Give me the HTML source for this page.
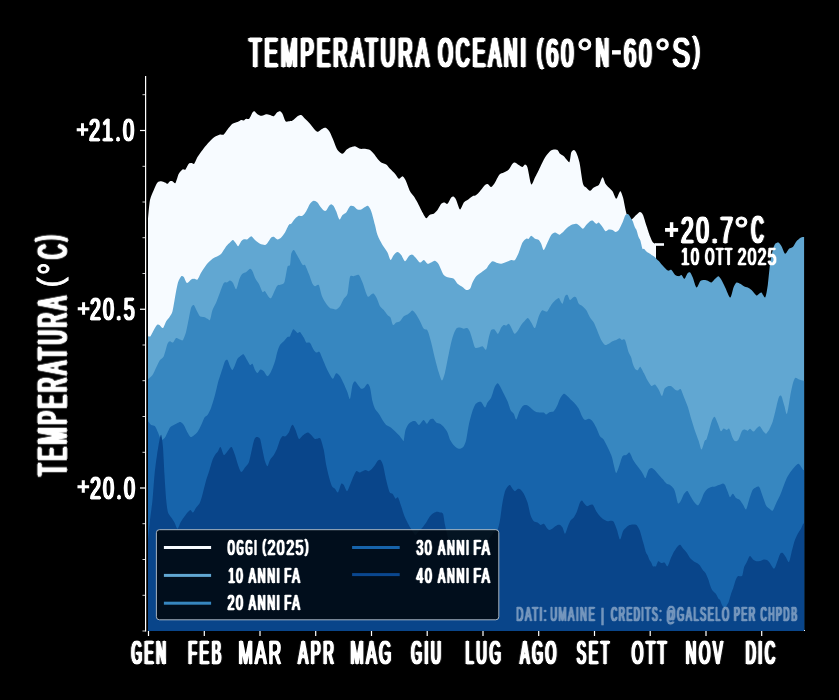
<!DOCTYPE html>
<html lang="it"><head><meta charset="utf-8"><title>Temperatura Oceani (60°N-60°S)</title>
<style>
html,body{margin:0;padding:0;background:#000;}
body{width:839px;height:700px;overflow:hidden;}
svg{display:block;}
svg text{font-family:"Liberation Sans",Arial,sans-serif;fill:#fff;stroke:#fff;}
</style></head><body>
<svg width="839" height="700" viewBox="0 0 839 700">
<rect width="839" height="700" fill="#000"/>
<path d="M148.0,631.0L148.0,218.8C148.3,216.2 149.2,203.8 150.0,200.0C150.8,196.2 152.8,192.3 153.8,190.0C154.8,187.7 156.5,183.7 157.5,182.5C158.5,181.3 160.2,181.2 161.2,181.2C162.2,181.2 164.2,182.2 165.0,182.5C165.8,182.8 166.8,183.9 167.5,183.8C168.2,183.6 169.3,181.6 170.0,181.2C170.7,180.9 171.8,181.0 172.5,181.2C173.2,181.5 174.7,184.0 175.5,183.0C176.3,182.0 177.8,175.6 178.8,173.8C179.7,171.9 181.6,170.1 182.5,169.5C183.4,168.9 184.7,170.3 185.5,169.5C186.3,168.7 187.9,164.6 188.8,163.8C189.6,162.9 191.0,163.0 191.8,163.0C192.5,163.0 193.5,164.6 194.2,163.8C195.0,162.9 196.4,158.8 197.5,157.0C198.6,155.2 201.2,151.8 202.5,150.0C203.8,148.2 206.0,145.4 207.5,143.8C209.0,142.1 212.1,138.7 213.8,137.5C215.4,136.3 218.7,134.9 220.0,134.5C221.3,134.1 222.8,135.2 223.8,134.5C224.8,133.8 226.3,130.9 227.5,129.5C228.7,128.1 231.2,124.8 232.5,123.8C233.8,122.8 236.3,122.5 237.5,122.0C238.7,121.5 240.4,120.2 241.2,120.0C242.1,119.8 243.1,120.7 243.8,120.5C244.4,120.3 245.5,119.0 246.2,118.8C247.0,118.5 248.4,119.6 249.2,118.8C250.1,117.9 251.8,113.5 252.5,112.5C253.2,111.5 253.8,111.0 254.5,111.2C255.2,111.5 256.6,113.7 257.5,114.2C258.4,114.8 260.4,115.7 261.2,115.8C262.1,115.8 263.6,115.2 264.2,115.0C264.9,114.8 265.5,114.2 266.2,114.2C267.0,114.2 269.0,114.7 270.0,115.0C271.0,115.3 272.8,116.6 273.8,116.2C274.7,115.9 276.2,113.2 277.0,112.5C277.8,111.8 279.3,111.1 280.0,111.2C280.7,111.4 281.8,112.4 282.5,113.8C283.2,115.1 284.7,120.2 285.5,121.2C286.3,122.2 287.8,121.3 288.8,121.2C289.7,121.2 291.3,121.2 292.5,120.5C293.7,119.8 296.3,117.0 297.5,116.2C298.7,115.5 300.2,114.7 301.2,115.0C302.2,115.3 303.8,117.6 305.0,118.8C306.2,119.9 308.7,122.2 310.0,123.8C311.3,125.2 313.9,128.9 315.0,130.0C316.1,131.1 317.0,131.9 318.0,131.8C319.0,131.6 321.4,129.2 322.5,128.8C323.6,128.2 325.2,127.5 326.2,128.0C327.2,128.5 329.0,130.7 330.0,132.5C331.0,134.3 332.8,138.9 333.8,141.2C334.8,143.6 336.3,148.3 337.5,150.0C338.7,151.7 341.3,153.8 342.5,153.8C343.7,153.8 345.2,150.8 346.2,150.0C347.2,149.2 348.8,148.0 350.0,147.5C351.2,147.0 353.7,146.1 355.0,146.2C356.3,146.4 358.7,148.4 360.0,148.8C361.3,149.1 363.7,148.6 365.0,148.8C366.3,148.9 368.8,149.3 370.0,150.0C371.2,150.7 372.8,152.6 373.8,153.8C374.8,154.9 376.5,157.6 377.5,158.8C378.5,159.9 380.1,161.7 381.2,162.5C382.4,163.3 385.1,163.7 386.2,164.5C387.4,165.3 388.8,167.5 390.0,168.8C391.2,170.0 393.8,172.4 395.0,173.8C396.2,175.1 397.8,178.4 398.8,178.8C399.8,179.1 401.6,176.1 402.5,176.2C403.4,176.4 404.5,178.0 405.5,180.0C406.5,182.0 408.9,189.1 410.0,191.2C411.1,193.4 412.8,194.8 413.8,196.2C414.8,197.8 416.3,200.3 417.5,202.5C418.7,204.7 421.3,210.4 422.5,212.5C423.7,214.6 425.3,217.9 426.2,218.2C427.2,218.6 428.5,215.6 429.5,215.0C430.5,214.4 432.7,214.4 433.8,213.8C434.8,213.1 436.5,211.3 437.5,210.0C438.5,208.7 440.3,204.8 441.2,203.8C442.2,202.8 443.7,202.5 444.5,202.5C445.3,202.5 446.6,204.4 447.5,203.8C448.4,203.1 450.4,198.4 451.2,197.5C452.1,196.6 453.1,196.4 453.8,196.8C454.4,197.1 455.4,198.3 456.2,200.0C457.1,201.7 459.0,209.2 460.0,209.5C461.0,209.8 462.8,203.8 463.8,202.5C464.8,201.2 466.3,200.8 467.5,200.0C468.7,199.2 471.3,196.9 472.5,196.2C473.7,195.6 475.2,195.7 476.2,195.0C477.2,194.3 478.8,192.6 480.0,191.2C481.2,189.9 483.9,185.9 485.0,185.0C486.1,184.1 487.2,184.0 488.0,184.2C488.8,184.5 490.3,187.2 491.2,187.0C492.2,186.8 493.9,184.2 495.0,182.5C496.1,180.8 498.3,175.8 499.5,174.5C500.7,173.2 502.5,173.2 503.8,172.5C505.0,171.8 507.6,170.7 508.8,169.5C509.9,168.3 511.7,164.7 512.5,163.8C513.3,162.8 514.2,162.3 515.0,162.5C515.8,162.7 517.8,164.4 518.8,165.0C519.8,165.6 521.7,167.1 522.5,167.0C523.3,166.9 524.3,164.4 525.0,164.5C525.7,164.6 526.7,164.9 527.5,167.5C528.3,170.1 530.2,182.9 531.2,184.2C532.2,185.6 533.8,179.7 535.0,177.5C536.2,175.3 538.7,170.2 540.0,167.5C541.3,164.8 543.7,159.7 545.0,157.5C546.3,155.3 548.8,152.3 550.0,151.2C551.2,150.2 552.8,149.7 553.8,149.5C554.8,149.3 556.7,149.4 557.5,150.0C558.3,150.6 559.2,152.9 560.0,153.8C560.8,154.6 562.8,155.4 563.8,156.2C564.7,157.1 566.2,159.2 567.0,160.0C567.8,160.8 568.9,163.0 569.5,162.0C570.1,161.0 570.7,154.1 571.2,152.5C571.8,150.9 573.1,150.0 573.8,150.0C574.4,150.0 575.5,150.8 576.2,152.5C577.0,154.2 578.6,158.3 579.5,162.5C580.4,166.7 582.1,180.4 583.0,183.8C583.9,187.1 585.3,186.6 586.2,187.5C587.2,188.4 589.0,190.8 590.0,190.8C591.0,190.8 592.6,188.3 593.8,187.5C594.9,186.7 597.8,186.1 598.8,185.0C599.8,183.9 600.7,180.5 601.2,179.5C601.8,178.5 602.4,176.9 603.0,177.5C603.6,178.1 604.7,182.4 605.5,183.8C606.3,185.1 607.8,186.5 608.8,187.5C609.7,188.5 611.5,189.8 612.5,191.2C613.5,192.8 615.4,198.4 616.2,198.8C617.1,199.1 618.2,194.8 618.8,193.8C619.3,192.8 619.9,190.8 620.5,191.2C621.1,191.8 622.2,194.7 623.0,197.5C623.8,200.3 625.4,209.5 626.2,212.5C627.1,215.5 628.7,219.2 629.5,220.0C630.3,220.8 631.6,219.4 632.5,218.8C633.4,218.1 635.2,215.9 636.2,215.0C637.2,214.1 639.1,212.0 640.0,212.0C640.9,212.0 642.2,213.3 643.0,215.0C643.8,216.7 645.3,222.2 646.2,225.0C647.2,227.8 649.1,233.9 650.0,236.2C650.9,238.6 652.2,241.5 653.0,242.5C653.8,243.5 655.6,243.6 656.0,243.8L656.0,631.0Z" fill="#f7fbff"/>
<path d="M148.0,631.0L148.0,336.2C148.3,336.2 149.7,337.1 150.5,336.2C151.3,335.4 152.9,331.5 153.8,330.0C154.6,328.5 156.2,325.7 157.0,325.0C157.8,324.3 158.7,324.6 159.5,325.0C160.3,325.4 162.1,328.5 163.0,328.0C163.9,327.5 165.3,322.8 166.2,321.2C167.2,319.7 169.2,317.6 170.0,316.2C170.8,314.9 171.8,313.8 172.5,311.2C173.2,308.8 174.3,301.3 175.0,297.5C175.7,293.7 177.2,285.3 178.0,282.5C178.8,279.7 180.5,277.0 181.2,276.2C182.0,275.5 183.0,276.1 183.8,277.0C184.5,277.9 186.0,282.7 187.0,283.0C188.0,283.3 190.2,280.1 191.2,279.5C192.2,278.9 193.7,278.8 194.5,278.8C195.3,278.8 196.6,280.3 197.5,279.5C198.4,278.7 200.1,274.4 201.2,272.5C202.4,270.6 204.8,266.7 206.2,264.9C207.8,263.0 211.0,259.9 212.5,258.8C214.0,257.6 216.3,256.9 217.5,256.2C218.7,255.6 220.1,255.1 221.2,253.8C222.4,252.4 225.1,247.8 226.2,246.2C227.4,244.8 229.1,243.3 230.0,242.5C230.9,241.7 232.2,239.8 233.0,240.0C233.8,240.2 235.6,242.9 236.2,243.8C236.9,244.6 237.6,246.6 238.2,246.2C238.9,245.9 240.5,242.2 241.2,241.2C242.0,240.3 242.9,239.5 243.8,239.2C244.6,239.0 246.5,239.7 247.5,239.2C248.5,238.8 250.2,236.2 251.2,236.2C252.2,236.3 253.8,239.0 255.0,240.0C256.2,241.0 258.7,243.1 260.0,243.8C261.3,244.4 264.0,245.1 265.0,245.0C266.0,244.9 266.7,244.0 267.5,243.0C268.3,242.0 270.4,238.3 271.2,237.5C272.1,236.7 272.9,236.5 273.8,236.8C274.6,237.0 276.5,239.4 277.5,239.5C278.5,239.6 280.2,238.4 281.2,237.5C282.2,236.6 284.0,234.2 285.0,232.5C286.0,230.8 287.9,226.2 288.8,225.0C289.6,223.8 290.4,224.6 291.2,223.8C292.1,222.9 294.0,219.8 295.0,218.8C296.0,217.7 297.8,216.2 298.8,215.8C299.8,215.3 301.5,216.3 302.5,215.8C303.5,215.2 305.2,212.8 306.2,211.2C307.2,209.7 309.0,205.2 310.0,203.8C311.0,202.3 312.8,200.9 313.8,200.8C314.8,200.6 316.7,201.8 317.5,202.5C318.3,203.2 319.2,205.2 320.0,206.2C320.8,207.3 322.9,209.9 323.8,210.5C324.6,211.1 325.6,211.1 326.2,210.5C326.9,209.9 328.1,207.1 328.8,206.2C329.4,205.4 330.6,204.2 331.2,204.2C331.9,204.2 333.1,205.3 333.8,206.2C334.4,207.2 335.5,209.5 336.2,211.2C337.0,213.0 338.7,219.0 339.5,219.5C340.3,220.0 341.6,215.9 342.5,215.0C343.4,214.1 345.2,213.7 346.2,212.5C347.2,211.3 349.0,207.1 350.0,206.2C351.0,205.4 352.8,205.8 353.8,206.2C354.8,206.7 356.5,209.1 357.5,209.5C358.5,209.9 360.2,209.8 361.2,209.5C362.2,209.2 364.1,207.5 365.0,207.0C365.9,206.5 367.2,205.2 368.0,205.8C368.8,206.3 370.3,208.7 371.2,211.2C372.2,213.8 374.2,221.8 375.0,225.0C375.8,228.2 376.5,232.3 377.5,235.0C378.5,237.7 381.2,242.7 382.5,245.0C383.8,247.3 386.4,250.5 387.5,252.5C388.6,254.5 389.7,259.7 390.5,260.0C391.3,260.3 392.8,256.1 393.8,255.0C394.7,253.9 396.5,252.0 397.5,252.0C398.5,252.0 400.2,253.8 401.2,255.0C402.2,256.2 404.0,261.1 405.0,261.2C406.0,261.4 407.8,257.1 408.8,256.2C409.7,255.3 411.2,254.4 412.0,254.5C412.8,254.6 413.9,255.9 415.0,257.0C416.1,258.1 418.8,262.1 420.0,262.5C421.2,262.9 422.8,259.8 423.8,260.0C424.8,260.2 426.5,263.4 427.5,263.8C428.5,264.1 430.2,262.9 431.2,262.5C432.2,262.1 434.0,260.5 435.0,260.8C436.0,261.0 437.6,262.5 438.8,264.4C439.9,266.3 442.4,273.2 443.8,275.0C445.1,276.8 447.4,277.0 448.8,277.5C450.1,278.0 452.6,277.9 453.8,278.8C454.9,279.6 456.3,282.6 457.5,283.8C458.7,284.9 461.3,286.2 462.5,287.0C463.7,287.8 465.2,289.8 466.2,290.0C467.2,290.2 469.2,289.8 470.0,288.8C470.8,287.8 471.7,284.2 472.5,282.5C473.3,280.8 475.1,277.6 476.2,276.2C477.4,274.9 479.9,273.5 481.2,272.5C482.6,271.5 485.2,269.8 486.2,268.8C487.2,267.8 487.9,266.0 488.8,265.0C489.6,264.0 491.3,261.5 492.5,261.2C493.7,261.0 496.3,262.7 497.5,263.0C498.7,263.3 500.1,263.9 501.2,263.8C502.4,263.6 504.9,262.5 506.2,262.0C507.6,261.5 510.1,260.3 511.2,260.0C512.4,259.7 514.0,261.0 515.0,260.0C516.0,259.0 517.8,254.8 518.8,252.5C519.8,250.2 521.5,244.3 522.5,242.5C523.5,240.7 525.4,239.2 526.2,238.8C527.1,238.2 528.1,239.2 528.8,238.8C529.4,238.3 530.4,235.8 531.2,235.8C532.1,235.8 534.0,238.2 535.0,238.8C536.0,239.3 537.9,239.3 538.8,240.0C539.6,240.7 540.6,242.4 541.2,243.8C541.9,245.1 542.9,250.2 543.8,250.0C544.6,249.8 546.5,244.5 547.5,242.5C548.5,240.5 550.2,236.3 551.2,235.0C552.2,233.7 554.0,232.6 555.0,232.5C556.0,232.4 558.1,234.2 558.8,234.5C559.4,234.8 559.3,234.9 560.0,234.5C560.7,234.1 562.8,232.2 563.8,231.2C564.8,230.3 566.5,228.3 567.5,227.5C568.5,226.7 570.1,225.5 571.2,225.0C572.4,224.5 575.1,223.6 576.2,223.8C577.4,223.9 579.1,225.6 580.0,226.2C580.9,226.9 582.2,228.9 583.0,228.8C583.8,228.6 585.3,226.0 586.2,225.0C587.2,224.0 589.2,221.8 590.0,221.2C590.8,220.7 591.7,220.2 592.5,220.5C593.3,220.8 595.4,223.5 596.2,223.8C597.1,224.0 597.9,222.1 598.8,222.5C599.6,222.9 601.6,225.8 602.5,227.0C603.4,228.2 604.7,230.9 605.5,231.2C606.3,231.6 607.8,229.7 608.8,229.5C609.7,229.3 611.6,229.7 612.5,230.0C613.4,230.3 614.7,232.0 615.5,232.0C616.3,232.0 617.8,231.3 618.8,230.0C619.7,228.7 621.6,224.5 622.5,222.5C623.4,220.5 624.7,216.1 625.5,215.0C626.3,213.9 627.7,213.9 628.5,214.4C629.3,214.9 630.7,217.8 631.2,218.8C631.8,219.7 632.2,220.1 632.8,221.2C633.2,222.4 634.5,226.3 635.0,227.5C635.5,228.7 636.0,228.7 636.5,230.0C637.0,231.3 638.2,236.2 638.8,237.5C639.2,238.8 639.8,238.5 640.2,240.0C640.8,241.5 642.0,247.6 642.5,248.8C643.0,249.9 643.5,248.4 644.0,248.8C644.5,249.1 645.8,250.8 646.2,251.2C646.8,251.8 647.2,252.2 647.8,252.5C648.2,252.8 649.5,253.4 650.0,253.8C650.5,254.1 651.0,254.7 651.5,255.0C652.0,255.3 653.2,255.9 653.8,256.2C654.2,256.6 654.8,257.0 655.2,257.5C655.8,258.0 657.0,259.5 657.5,260.0C658.0,260.5 658.3,260.5 659.0,261.2C659.7,262.0 661.5,264.3 662.6,265.5C663.8,266.7 666.6,269.9 667.8,270.5C668.9,271.1 670.5,269.4 671.5,270.0C672.5,270.6 674.2,274.2 675.2,275.0C676.2,275.8 678.2,276.2 679.0,276.2C679.8,276.2 680.8,274.7 681.5,275.0C682.2,275.3 683.7,279.0 684.5,278.8C685.3,278.5 687.0,273.8 687.8,273.0C688.5,272.2 689.6,271.9 690.2,272.5C690.9,273.1 691.9,275.5 692.8,277.5C693.6,279.5 695.5,287.0 696.5,287.5C697.5,288.0 699.2,282.2 700.2,281.2C701.2,280.2 703.0,280.1 704.0,280.0C705.0,279.9 706.8,280.4 707.8,280.8C708.8,281.1 710.5,282.8 711.5,282.5C712.5,282.2 714.3,279.6 715.2,278.8C716.2,277.9 717.7,276.1 718.5,276.2C719.3,276.4 720.6,278.5 721.5,280.0C722.4,281.5 724.1,285.2 725.2,287.5C726.4,289.8 729.1,297.5 730.2,297.5C731.4,297.5 732.7,289.5 733.5,287.5C734.3,285.5 735.6,283.0 736.5,282.5C737.4,282.0 739.2,283.2 740.2,283.8C741.2,284.2 743.0,285.8 744.0,286.2C745.0,286.8 746.8,287.0 747.8,287.5C748.8,288.0 750.3,288.9 751.5,290.0C752.7,291.1 755.5,295.0 756.5,295.5C757.5,296.0 758.3,294.1 759.0,293.8C759.7,293.4 760.7,292.0 761.5,292.5C762.3,293.0 764.4,298.5 765.2,297.5C766.1,296.5 767.1,289.7 767.8,285.0C768.4,280.3 769.6,267.2 770.2,262.5C770.9,257.8 772.1,252.5 772.8,250.0C773.4,247.5 774.5,244.8 775.2,243.8C776.0,242.8 777.7,242.2 778.5,242.5C779.3,242.8 780.6,244.8 781.5,246.2C782.4,247.8 784.2,253.4 785.2,253.8C786.2,254.1 788.0,249.7 789.0,248.8C790.0,247.8 791.8,248.0 792.8,247.0C793.8,246.0 795.5,242.4 796.5,241.2C797.5,240.1 799.4,238.6 800.2,238.0C801.1,237.4 802.7,237.1 803.2,237.0C803.8,236.9 804.0,237.0 804.1,237.0L804.1,631.0Z" fill="#61a7d2"/>
<path d="M148.0,631.0L148.0,379.2C148.6,378.7 151.4,376.6 152.5,375.0C153.6,373.4 155.2,369.5 156.2,367.5C157.2,365.5 159.0,361.5 160.0,360.0C161.0,358.5 162.8,358.4 163.8,356.2C164.8,354.1 166.7,345.8 167.5,343.8C168.3,341.8 169.3,341.4 170.0,341.2C170.7,341.1 172.2,342.9 173.0,342.5C173.8,342.1 175.3,338.4 176.2,338.0C177.2,337.6 179.1,339.2 180.0,339.5C180.9,339.8 182.2,341.1 183.0,340.0C183.8,338.9 185.5,334.1 186.2,331.2C187.0,328.4 188.1,321.9 188.8,318.8C189.4,315.6 190.6,309.3 191.2,307.5C191.9,305.7 193.0,304.5 193.8,305.0C194.5,305.5 196.2,309.8 197.0,311.2C197.8,312.8 199.1,315.5 200.0,316.2C200.9,317.0 202.8,316.7 203.8,317.0C204.8,317.3 206.7,318.4 207.5,318.8C208.3,319.1 209.3,321.2 210.0,320.0C210.7,318.8 211.7,312.3 212.5,310.0C213.3,307.7 215.2,304.8 216.2,302.5C217.2,300.2 219.0,295.1 220.0,292.5C221.0,289.9 222.8,284.3 223.8,283.0C224.7,281.7 226.2,282.8 227.0,282.5C227.8,282.2 229.2,280.4 230.0,280.5C230.8,280.6 232.2,281.8 233.0,283.0C233.8,284.2 235.4,289.8 236.2,289.2C237.1,288.7 238.7,280.8 239.5,278.8C240.3,276.7 241.6,274.6 242.5,273.8C243.4,272.9 245.2,272.7 246.2,272.0C247.2,271.3 249.2,268.9 250.0,268.8C250.8,268.6 251.8,269.9 252.5,271.2C253.2,272.6 254.7,277.1 255.5,278.8C256.3,280.4 257.8,282.0 258.8,283.8C259.7,285.5 261.7,291.0 262.5,292.0C263.3,293.0 264.2,290.6 265.0,291.2C265.8,291.9 267.9,296.1 268.8,297.0C269.6,297.9 270.4,298.9 271.2,298.0C272.1,297.1 274.2,291.7 275.0,290.0C275.8,288.3 276.7,286.2 277.5,285.5C278.3,284.8 280.3,285.0 281.2,284.5C282.2,284.0 283.7,284.4 284.5,282.0C285.3,279.6 286.8,269.0 287.5,266.8C288.2,264.5 289.5,266.7 290.0,265.0C290.5,263.3 290.8,255.8 291.2,253.8C291.8,251.8 293.0,249.8 293.8,250.0C294.5,250.2 295.8,253.0 297.0,255.0C298.2,257.0 301.4,263.4 302.5,264.8C303.6,266.1 304.2,263.8 305.0,265.0C305.8,266.2 307.8,271.2 308.8,273.8C309.8,276.2 311.7,282.1 312.5,283.8C313.3,285.4 314.2,286.1 315.0,286.2C315.8,286.4 317.8,283.7 318.8,285.0C319.7,286.3 321.0,293.8 322.0,296.2C323.0,298.8 325.2,302.2 326.2,303.8C327.3,305.3 329.1,307.3 330.0,308.0C330.9,308.7 332.2,308.6 333.0,308.8C333.8,308.9 335.3,309.8 336.2,309.5C337.2,309.2 339.0,307.7 340.0,306.2C341.0,304.8 342.8,300.4 343.8,298.8C344.8,297.1 346.7,296.6 347.5,293.8C348.3,290.9 349.2,279.3 350.0,277.0C350.8,274.7 352.6,276.5 353.8,276.2C354.9,276.0 357.6,274.2 358.8,275.0C359.9,275.8 361.3,279.7 362.5,282.5C363.7,285.3 366.3,294.6 367.5,296.2C368.7,297.9 370.4,294.8 371.2,294.5C372.1,294.2 373.0,293.2 373.8,293.8C374.5,294.3 376.2,297.1 377.0,298.8C377.8,300.4 379.1,304.8 380.0,306.2C380.9,307.8 382.8,308.8 383.8,310.0C384.8,311.2 386.6,314.0 387.5,315.0C388.4,316.0 389.8,316.2 390.5,317.5C391.2,318.8 392.2,324.3 393.0,325.0C393.8,325.7 395.3,323.0 396.2,322.5C397.2,322.0 399.0,322.1 400.0,321.2C401.0,320.4 402.8,317.1 403.8,316.2C404.8,315.4 406.7,315.0 407.5,314.5C408.3,314.0 409.3,313.0 410.0,312.5C410.7,312.0 411.7,310.2 412.5,310.5C413.3,310.8 415.2,313.1 416.2,314.5C417.2,315.9 419.0,319.4 420.0,321.2C421.0,323.1 422.8,327.5 423.8,328.8C424.8,330.0 426.5,328.7 427.5,330.5C428.5,332.3 430.2,338.7 431.2,342.5C432.2,346.3 434.0,354.8 435.0,358.8C436.0,362.8 437.8,369.6 438.8,372.5C439.7,375.4 441.2,380.5 442.0,380.5C442.8,380.5 444.1,376.1 445.0,372.5C445.9,368.9 447.8,358.4 448.8,353.8C449.8,349.1 451.5,340.8 452.5,337.5C453.5,334.2 455.2,330.1 456.2,328.8C457.2,327.4 459.0,327.5 460.0,327.5C461.0,327.5 462.8,328.6 463.8,328.8C464.8,328.9 466.7,327.8 467.5,328.2C468.3,328.7 469.3,330.4 470.0,332.0C470.7,333.6 471.8,337.9 472.5,340.0C473.2,342.1 474.2,346.5 475.0,347.5C475.8,348.5 477.8,347.7 478.8,347.5C479.8,347.3 481.5,346.0 482.5,346.2C483.5,346.5 485.4,350.7 486.2,349.5C487.1,348.3 488.1,340.1 488.8,337.5C489.4,334.9 490.5,331.1 491.2,330.0C492.0,328.9 493.6,329.0 494.5,329.5C495.4,330.0 497.1,334.0 498.0,333.8C498.9,333.5 500.5,328.7 501.2,327.5C502.0,326.3 503.1,325.3 503.8,325.0C504.4,324.7 505.6,325.7 506.2,325.5C506.9,325.3 508.1,323.5 508.8,323.8C509.4,324.0 510.5,326.2 511.2,327.5C512.0,328.8 513.6,333.4 514.5,333.8C515.4,334.1 517.1,331.7 518.0,330.5C518.9,329.3 520.3,326.3 521.2,325.0C522.2,323.7 524.1,321.4 525.0,320.5C525.9,319.6 527.2,317.7 528.0,318.0C528.8,318.3 530.3,321.2 531.2,322.5C532.2,323.8 534.0,328.8 535.0,328.0C536.0,327.2 537.8,318.6 538.8,316.2C539.7,313.9 541.2,311.2 542.0,310.5C542.8,309.8 544.3,311.1 545.0,311.2C545.7,311.4 546.7,312.1 547.5,311.2C548.3,310.4 550.2,306.4 551.2,305.0C552.2,303.6 554.0,301.4 555.0,300.5C556.0,299.6 558.1,298.1 558.8,298.0C559.4,297.9 559.5,299.2 560.0,300.0C560.5,300.8 561.8,304.2 562.5,303.8C563.2,303.2 564.3,297.4 565.0,296.2C565.7,295.1 566.8,294.5 567.5,295.0C568.2,295.5 569.2,299.7 570.0,300.0C570.8,300.3 572.9,297.3 573.8,297.0C574.6,296.7 575.6,296.6 576.2,297.5C576.9,298.4 577.9,302.6 578.8,303.8C579.6,304.9 581.5,305.4 582.5,306.2C583.5,307.1 585.2,308.5 586.2,310.0C587.2,311.5 589.0,315.8 590.0,317.5C591.0,319.2 592.8,320.7 593.8,322.5C594.8,324.3 596.5,328.9 597.5,331.2C598.5,333.6 600.2,338.2 601.2,340.0C602.2,341.8 604.0,344.5 605.0,345.0C606.0,345.5 607.8,344.2 608.8,343.8C609.8,343.2 611.5,341.8 612.5,341.2C613.5,340.8 615.3,340.4 616.2,340.0C617.2,339.6 618.7,338.2 619.5,338.2C620.3,338.2 621.3,339.8 622.0,340.0C622.7,340.2 624.1,338.4 625.0,340.0C625.9,341.6 627.7,349.5 628.5,351.9C629.3,354.2 630.7,355.9 631.2,357.5C631.8,359.1 632.2,362.2 632.8,363.8C633.2,365.2 634.5,367.9 635.0,368.8C635.5,369.6 636.1,369.8 636.5,370.0C636.9,370.2 637.5,370.4 638.0,370.0C638.5,369.6 639.6,366.5 640.4,366.9C641.2,367.3 642.9,371.3 643.9,373.1C644.8,375.0 646.6,378.9 647.6,380.6C648.6,382.3 650.4,385.4 651.4,385.9C652.4,386.4 654.1,383.9 655.1,384.5C656.1,385.1 658.0,388.5 658.9,390.0C659.8,391.5 661.2,396.2 662.0,396.0C662.8,395.8 663.7,390.1 664.5,388.8C665.3,387.4 667.0,386.6 667.9,386.2C668.8,385.9 670.4,385.8 671.4,386.2C672.3,386.7 674.0,388.8 674.9,389.4C675.7,390.0 676.9,390.7 677.6,390.6C678.4,390.6 679.8,388.3 680.6,389.1C681.5,390.0 682.9,394.6 683.9,396.9C684.8,399.2 686.6,403.2 687.6,406.2C688.6,409.2 690.4,416.0 691.4,419.4C692.4,422.7 694.2,428.4 695.1,431.2C696.1,434.1 697.6,438.1 698.5,440.5C699.4,442.9 700.7,449.4 701.5,449.5C702.3,449.6 703.9,442.6 704.5,441.2C705.1,439.9 705.8,440.8 706.2,439.8C706.8,438.8 707.5,436.1 708.2,433.8C709.0,431.4 710.7,424.1 711.5,421.9C712.3,419.6 713.7,416.6 714.5,416.8C715.3,416.9 716.8,421.2 717.6,423.1C718.5,425.1 720.0,430.6 720.8,431.2C721.5,431.9 722.8,428.5 723.6,428.4C724.4,428.2 726.0,429.9 726.8,430.0C727.5,430.1 728.5,427.8 729.2,428.8C730.0,429.7 731.5,435.2 732.2,436.9C733.0,438.5 734.0,440.7 734.8,441.1C735.5,441.5 737.3,441.2 738.2,439.9C739.2,438.6 741.0,432.6 741.8,431.2C742.5,429.9 743.4,429.7 744.0,429.5C744.6,429.3 745.8,429.8 746.2,430.0C746.8,430.2 747.2,430.9 747.8,430.8C748.3,430.6 749.4,428.6 750.1,428.8C750.9,428.9 752.6,431.7 753.5,431.6C754.4,431.5 756.2,428.6 757.0,427.9C757.8,427.2 758.9,425.8 759.8,426.2C760.6,426.7 762.4,430.2 763.2,431.2C764.1,432.2 765.4,433.6 766.0,433.8C766.6,433.9 767.1,432.5 767.5,432.0C767.9,431.5 768.3,431.4 769.0,430.0C769.7,428.6 771.8,424.4 772.8,421.2C773.8,418.1 775.7,409.5 776.5,406.2C777.3,403.0 778.3,398.3 779.0,397.0C779.7,395.7 780.8,395.0 781.5,396.2C782.2,397.5 783.8,403.9 784.5,406.2C785.2,408.6 786.2,415.1 787.0,413.8C787.8,412.4 789.5,400.2 790.2,396.2C791.0,392.2 792.1,386.2 792.8,383.8C793.4,381.3 794.4,378.6 795.2,378.0C796.1,377.4 797.9,379.1 799.0,379.5C800.1,379.9 802.6,380.6 803.2,380.8C803.9,380.9 804.0,380.8 804.1,380.8L804.1,631.0Z" fill="#3787c0"/>
<path d="M148.0,631.0L148.0,421.2C148.4,421.8 150.3,424.3 151.2,425.0C152.2,425.7 154.1,425.2 155.0,426.2C155.9,427.2 157.2,430.7 158.0,432.5C158.8,434.3 160.3,439.1 161.2,439.8C162.2,440.4 164.2,438.5 165.0,437.5C165.8,436.5 166.8,433.8 167.5,432.5C168.2,431.2 169.2,428.5 170.0,427.5C170.8,426.5 172.8,425.6 173.8,425.0C174.8,424.4 176.6,423.4 177.5,423.0C178.4,422.6 179.7,421.7 180.5,422.0C181.3,422.3 182.8,423.6 183.8,425.0C184.7,426.4 186.6,430.9 187.5,432.5C188.4,434.1 189.7,436.6 190.5,437.0C191.3,437.4 192.8,436.2 193.8,435.5C194.7,434.8 196.5,433.4 197.5,432.0C198.5,430.6 200.3,426.9 201.2,425.0C202.2,423.1 203.7,418.8 204.5,417.5C205.3,416.2 206.6,416.3 207.5,415.0C208.4,413.7 210.2,410.2 211.2,407.5C212.2,404.8 214.1,398.3 215.0,395.0C215.9,391.7 217.2,385.5 218.0,382.5C218.8,379.5 220.3,375.3 221.2,372.5C222.2,369.7 224.2,362.9 225.0,361.2C225.8,359.6 226.8,359.3 227.5,360.0C228.2,360.7 229.3,364.9 230.0,366.2C230.7,367.6 231.8,370.2 232.5,370.0C233.2,369.8 234.3,366.5 235.0,365.0C235.7,363.5 236.7,360.0 237.5,358.8C238.3,357.5 240.4,356.1 241.2,355.5C242.1,354.9 243.0,353.9 243.8,354.5C244.5,355.1 246.2,358.6 247.0,360.0C247.8,361.4 249.3,364.5 250.0,365.0C250.7,365.5 251.8,363.1 252.5,363.8C253.2,364.4 254.3,368.8 255.0,370.0C255.7,371.2 256.8,373.1 257.5,373.0C258.2,372.9 259.7,369.7 260.5,369.5C261.3,369.3 262.8,370.4 263.8,371.2C264.7,372.1 266.5,376.2 267.5,376.2C268.5,376.2 270.2,373.2 271.2,371.2C272.2,369.2 274.2,363.9 275.0,361.2C275.8,358.6 276.8,353.4 277.5,351.2C278.2,349.1 279.2,346.3 280.0,345.0C280.8,343.7 282.8,342.3 283.8,341.2C284.8,340.2 286.7,337.7 287.5,337.0C288.3,336.3 289.3,337.2 290.0,336.2C290.7,335.2 292.3,330.3 293.0,329.5C293.7,328.7 294.4,330.0 295.0,330.5C295.6,331.0 296.8,332.8 297.5,333.0C298.2,333.2 299.2,331.4 300.0,332.0C300.8,332.6 302.9,336.1 303.8,337.5C304.6,338.9 305.4,341.8 306.2,342.5C307.1,343.2 309.0,342.0 310.0,343.0C311.0,344.0 312.9,348.7 313.8,350.0C314.6,351.3 315.5,352.2 316.2,352.5C317.0,352.8 318.7,351.2 319.5,352.0C320.3,352.8 321.6,356.7 322.5,358.8C323.4,360.8 325.2,365.3 326.2,367.5C327.2,369.7 329.1,373.5 330.0,375.0C330.9,376.5 332.2,379.0 333.0,378.8C333.8,378.5 335.3,373.6 336.2,373.2C337.2,372.9 339.0,374.9 340.0,376.2C341.0,377.6 342.8,381.6 343.8,383.8C344.8,385.9 346.7,390.5 347.5,392.5C348.3,394.5 349.3,399.8 350.0,398.8C350.7,397.8 351.8,387.3 352.5,385.0C353.2,382.7 354.3,381.2 355.0,381.2C355.7,381.2 357.2,384.0 358.0,385.0C358.8,386.0 360.4,388.4 361.2,388.8C362.1,389.1 363.7,388.2 364.5,387.5C365.3,386.8 366.8,383.8 367.5,383.8C368.2,383.8 369.3,385.2 370.0,387.5C370.7,389.8 371.8,398.4 372.5,401.2C373.2,404.1 374.2,407.1 375.0,408.8C375.8,410.4 377.8,412.2 378.8,413.8C379.8,415.2 381.5,418.5 382.5,420.0C383.5,421.5 385.2,424.1 386.2,425.0C387.2,425.9 388.8,426.2 390.0,427.0C391.2,427.8 393.8,430.2 395.0,431.2C396.2,432.3 397.8,433.9 398.8,435.0C399.8,436.1 401.8,439.0 402.5,439.8C403.2,440.5 403.4,441.8 403.8,440.5C404.1,439.2 404.8,432.2 405.5,430.0C406.2,427.8 407.8,424.9 408.8,423.8C409.7,422.6 411.6,421.6 412.5,421.2C413.4,420.9 414.7,420.8 415.5,421.2C416.3,421.8 418.0,424.8 418.8,425.0C419.5,425.2 420.6,423.2 421.2,422.5C421.9,421.8 423.0,419.8 423.8,420.0C424.5,420.2 426.2,423.8 427.0,423.8C427.8,423.7 429.2,420.2 430.0,419.5C430.8,418.8 432.2,418.4 433.0,418.8C433.8,419.1 435.3,421.8 436.2,422.5C437.2,423.2 439.0,423.1 440.0,423.8C441.0,424.4 442.8,425.8 443.8,427.0C444.8,428.2 446.7,430.8 447.5,432.5C448.3,434.2 449.3,438.2 450.0,439.8C450.7,441.2 451.7,442.7 452.5,443.8C453.3,444.8 455.2,446.8 456.2,447.5C457.2,448.2 459.0,448.9 460.0,448.8C461.0,448.6 462.9,447.4 463.8,446.2C464.6,445.1 465.6,442.6 466.2,439.8C466.9,436.9 468.0,428.6 468.8,425.0C469.5,421.4 471.2,415.2 472.0,412.5C472.8,409.8 474.3,406.3 475.0,405.0C475.7,403.7 476.7,402.9 477.5,402.5C478.3,402.1 480.2,401.3 481.2,402.0C482.2,402.7 484.2,407.4 485.0,407.5C485.8,407.6 486.7,403.8 487.5,402.5C488.3,401.2 490.3,399.5 491.2,397.5C492.2,395.5 493.7,389.4 494.5,387.5C495.3,385.6 496.8,383.4 497.5,383.2C498.2,383.1 499.2,384.9 500.0,386.2C500.8,387.6 502.8,391.8 503.8,393.8C504.8,395.8 506.6,399.1 507.5,401.2C508.4,403.4 509.7,408.3 510.5,410.0C511.3,411.7 513.0,412.5 513.8,413.8C514.5,415.0 515.5,419.8 516.2,419.5C517.0,419.2 518.7,413.0 519.5,411.2C520.3,409.5 521.7,407.1 522.5,406.2C523.3,405.4 524.7,405.0 525.5,405.0C526.3,405.0 527.8,405.6 528.8,406.2C529.7,406.9 531.5,408.7 532.5,409.5C533.5,410.3 535.2,411.6 536.2,412.0C537.2,412.4 539.0,412.4 540.0,412.5C541.0,412.6 542.9,412.2 543.8,412.5C544.6,412.8 545.4,414.6 546.2,414.5C547.1,414.4 549.0,412.4 550.0,412.0C551.0,411.6 552.8,412.2 553.8,411.2C554.8,410.3 556.7,406.7 557.5,405.0C558.3,403.3 559.2,400.2 560.0,398.8C560.8,397.2 562.8,394.1 563.8,393.8C564.8,393.4 566.5,395.4 567.5,396.2C568.5,397.1 570.2,399.0 571.2,400.0C572.2,401.0 574.0,402.6 575.0,403.8C576.0,404.9 577.8,407.1 578.8,408.8C579.7,410.4 581.2,414.8 582.0,416.2C582.8,417.8 584.1,419.7 585.0,420.0C585.9,420.3 587.8,418.6 588.8,418.8C589.8,418.9 591.5,420.1 592.5,421.2C593.5,422.4 595.2,425.5 596.2,427.5C597.2,429.5 599.0,434.6 600.0,436.2C601.0,437.9 602.2,437.2 603.8,439.8C605.2,442.2 609.9,451.6 611.2,455.0C612.6,458.4 613.1,462.6 613.8,465.0C614.4,467.4 615.5,473.0 616.2,473.0C617.0,473.0 618.7,467.2 619.5,465.0C620.3,462.8 621.6,457.6 622.5,456.2C623.4,454.9 625.3,455.5 626.2,455.0C627.2,454.5 628.6,451.8 629.5,452.5C630.4,453.2 632.2,458.2 633.2,460.0C634.2,461.8 636.0,464.2 637.0,465.6C638.0,467.0 639.9,469.4 640.8,470.6C641.6,471.9 642.9,474.0 643.5,475.0C644.1,476.0 644.8,478.8 645.5,478.1C646.2,477.5 647.7,471.4 648.5,470.0C649.3,468.6 650.7,467.9 651.6,468.0C652.5,468.1 654.2,469.7 655.1,470.6C656.1,471.6 657.9,473.9 658.9,475.0C659.9,476.1 661.6,478.0 662.6,479.1C663.6,480.3 665.4,482.8 666.4,483.5C667.3,484.2 668.8,484.1 669.8,484.8C670.7,485.4 672.5,487.1 673.2,488.1C674.0,489.2 674.6,490.5 675.2,492.5C675.9,494.5 677.2,502.3 678.0,503.4C678.8,504.4 680.2,501.7 681.0,500.4C681.8,499.1 683.3,495.0 684.1,493.8C685.0,492.5 686.5,490.7 687.4,491.0C688.2,491.3 689.6,494.8 690.5,496.2C691.4,497.7 693.1,500.7 694.1,501.9C695.1,503.1 697.1,505.5 698.0,505.4C698.9,505.2 700.2,502.3 701.0,500.6C701.8,499.0 703.2,494.7 704.1,493.1C705.0,491.5 706.7,489.6 707.6,488.8C708.6,487.9 710.4,487.2 711.4,486.9C712.4,486.6 714.1,486.8 715.1,486.5C716.1,486.2 717.8,485.4 718.9,485.0C719.9,484.6 722.2,483.4 723.0,483.4C723.8,483.4 724.5,484.3 725.0,485.0C725.5,485.7 726.1,487.8 726.5,488.8C726.9,489.8 727.5,491.4 728.0,492.5C728.5,493.6 729.4,497.1 730.0,497.2C730.6,497.4 732.1,493.6 732.9,493.8C733.7,493.9 735.2,497.3 736.1,498.1C737.0,499.0 738.8,499.1 739.8,500.0C740.7,500.9 742.4,503.8 743.2,505.0C744.1,506.2 745.3,510.1 746.1,509.4C746.9,508.6 748.4,502.0 749.2,499.4C750.1,496.8 751.7,491.6 752.6,490.0C753.5,488.4 755.2,487.6 756.1,487.2C757.0,486.9 758.4,486.1 759.2,487.1C760.1,488.2 761.3,492.5 762.2,495.0C763.2,497.5 765.2,503.8 766.1,505.6C767.1,507.5 768.6,508.1 769.5,508.8C770.4,509.4 771.8,511.3 772.8,510.5C773.7,509.7 775.5,504.6 776.5,502.5C777.5,500.4 779.3,497.2 780.2,495.0C781.2,492.8 782.6,488.6 783.5,486.2C784.4,483.9 786.0,479.5 787.0,477.5C788.0,475.5 790.0,472.6 791.0,471.2C792.0,469.9 793.5,468.0 794.5,467.0C795.5,466.0 797.6,463.7 798.5,463.8C799.4,463.8 800.9,466.7 801.5,467.5C802.1,468.3 802.9,469.7 803.2,470.0C803.6,470.3 804.0,470.0 804.1,470.0L804.1,631.0Z" fill="#1764ab"/>
<path d="M148.0,631.0L148.0,540.0C148.3,537.3 149.4,525.3 150.0,520.0C150.6,514.7 151.9,506.0 152.5,500.0C153.1,494.0 153.9,481.0 154.5,475.0C155.1,469.0 156.3,459.7 157.0,455.0C157.7,450.3 158.9,442.7 159.5,440.0C160.1,437.3 160.8,434.0 161.2,435.0C161.7,436.0 162.6,442.2 163.0,447.5C163.4,452.8 164.1,468.0 164.5,475.0C164.9,482.0 165.8,495.0 166.2,500.0C166.7,505.0 167.3,510.2 168.0,512.5C168.7,514.8 170.4,516.2 171.2,517.5C172.1,518.8 173.7,521.0 174.5,522.5C175.3,524.0 176.7,528.8 177.5,528.8C178.3,528.8 179.7,524.0 180.5,522.5C181.3,521.0 182.8,518.8 183.8,517.5C184.7,516.2 186.6,513.5 187.5,512.5C188.4,511.5 189.8,510.0 190.5,510.0C191.2,510.0 192.2,512.8 193.0,512.5C193.8,512.2 195.3,508.8 196.2,507.5C197.2,506.2 199.1,504.5 200.0,502.5C200.9,500.5 202.2,495.5 203.0,492.5C203.8,489.5 205.4,483.0 206.2,480.0C207.1,477.0 208.7,472.7 209.5,470.0C210.3,467.3 211.8,462.0 212.5,460.0C213.2,458.0 214.3,456.2 215.0,455.0C215.7,453.8 217.3,452.3 218.0,451.2C218.7,450.2 219.7,446.5 220.5,447.0C221.3,447.5 222.9,454.3 223.8,455.0C224.6,455.7 226.2,452.9 227.0,452.0C227.8,451.1 229.3,448.6 230.0,448.0C230.7,447.4 231.3,446.6 232.0,447.5C232.7,448.4 234.2,452.7 235.0,455.0C235.8,457.3 237.2,462.7 238.0,465.0C238.8,467.3 240.3,471.7 241.2,472.0C242.2,472.3 244.0,468.8 245.0,467.5C246.0,466.2 247.9,464.5 248.8,462.5C249.6,460.5 250.6,455.3 251.2,452.5C251.9,449.7 253.1,443.3 253.8,441.2C254.4,439.2 255.4,437.3 256.2,437.0C257.1,436.7 259.2,437.0 260.0,438.8C260.8,440.5 261.8,447.0 262.5,450.0C263.2,453.0 264.3,459.1 265.0,461.2C265.7,463.4 266.8,466.4 267.5,466.2C268.2,466.1 269.2,461.5 270.0,460.0C270.8,458.5 272.8,456.5 273.8,455.0C274.7,453.5 276.2,450.8 277.0,448.8C277.8,446.8 279.3,441.7 280.0,440.0C280.7,438.3 281.8,436.8 282.5,436.2C283.2,435.8 284.7,436.8 285.5,436.2C286.3,435.8 288.0,433.8 288.8,432.5C289.5,431.2 290.7,427.2 291.2,426.2C291.8,425.2 292.4,424.5 293.0,425.0C293.6,425.5 294.7,428.2 295.5,430.0C296.3,431.8 297.9,437.9 298.8,438.8C299.6,439.6 301.2,436.9 302.0,436.2C302.8,435.6 304.2,434.2 305.0,433.8C305.8,433.2 307.2,432.3 308.0,432.5C308.8,432.7 310.4,434.2 311.2,435.0C312.1,435.8 313.7,438.2 314.5,438.8C315.3,439.2 316.7,438.8 317.5,438.8C318.3,438.8 319.7,437.2 320.5,438.8C321.3,440.2 323.0,446.5 323.8,450.0C324.5,453.5 325.6,461.5 326.2,465.0C326.9,468.5 328.0,473.4 328.8,476.2C329.5,479.1 331.2,484.6 332.0,486.2C332.8,487.9 334.2,487.9 335.0,488.8C335.8,489.6 337.2,493.2 338.0,492.5C338.8,491.8 340.5,484.8 341.2,483.8C342.0,482.8 343.0,484.0 343.8,485.0C344.5,486.0 346.2,491.2 347.0,491.2C347.8,491.2 349.2,486.8 350.0,485.0C350.8,483.2 352.2,479.3 353.0,477.5C353.8,475.7 355.4,471.9 356.2,471.2C357.1,470.6 358.7,472.5 359.5,472.5C360.3,472.5 361.7,471.6 362.5,471.2C363.3,470.9 364.7,470.0 365.5,470.0C366.3,470.0 367.9,471.4 368.8,471.2C369.6,471.1 371.2,469.6 372.0,468.8C372.8,467.9 374.2,466.1 375.0,465.0C375.8,463.9 377.3,461.2 378.0,460.5C378.7,459.8 379.8,459.4 380.5,460.0C381.2,460.6 382.2,462.3 383.0,465.0C383.8,467.7 385.4,476.4 386.2,480.0C387.1,483.6 388.7,490.2 389.5,492.0C390.3,493.8 391.7,492.9 392.5,493.8C393.3,494.6 394.8,498.2 395.5,498.8C396.2,499.2 397.2,496.5 398.0,497.5C398.8,498.5 400.4,503.8 401.2,506.2C402.1,508.8 403.5,513.8 404.5,516.2C405.5,518.8 407.7,523.0 408.8,525.0C409.8,527.0 411.6,529.9 412.5,531.2C413.4,532.6 414.7,535.0 415.5,535.0C416.3,535.0 417.8,532.2 418.8,531.2C419.7,530.2 421.5,528.7 422.5,527.5C423.5,526.3 425.2,524.0 426.2,522.5C427.2,521.0 429.0,517.5 430.0,516.2C431.0,515.0 432.8,513.6 433.8,513.0C434.7,512.4 436.2,511.8 437.0,511.8C437.8,511.7 439.2,512.2 440.0,512.5C440.8,512.8 442.3,512.1 443.0,513.8C443.7,515.4 444.3,521.8 445.0,525.0C445.7,528.2 447.2,535.2 448.0,537.5C448.8,539.8 450.0,540.8 451.2,542.5C452.5,544.2 455.3,548.3 457.5,550.0C459.7,551.7 464.5,555.0 467.5,555.0C470.5,555.0 477.0,552.3 480.0,550.0C483.0,547.7 488.2,539.8 490.0,537.5C491.8,535.2 492.8,533.5 493.8,532.5C494.8,531.5 496.7,531.7 497.5,530.0C498.3,528.3 499.3,523.7 500.0,520.0C500.7,516.3 501.8,506.3 502.5,502.5C503.2,498.7 504.3,493.4 505.0,491.2C505.7,489.1 507.3,487.1 508.0,486.2C508.7,485.4 509.4,484.7 510.0,485.0C510.6,485.3 511.8,487.9 512.5,488.8C513.2,489.6 514.3,491.2 515.0,491.2C515.7,491.2 517.3,489.0 518.0,488.8C518.7,488.5 519.7,488.8 520.5,489.5C521.3,490.2 522.8,492.0 523.8,493.8C524.7,495.5 526.6,499.7 527.5,502.5C528.4,505.3 529.7,512.5 530.5,515.0C531.3,517.5 532.8,520.2 533.8,521.2C534.7,522.2 536.6,522.0 537.5,522.5C538.4,523.0 539.7,524.8 540.5,525.0C541.3,525.2 542.8,523.2 543.8,523.8C544.7,524.2 546.7,527.9 547.5,528.8C548.3,529.6 549.2,530.2 550.0,530.0C550.8,529.8 552.8,528.2 553.8,527.5C554.8,526.8 556.7,525.3 557.5,525.0C558.3,524.7 559.3,524.7 560.0,525.0C560.7,525.3 561.8,526.3 562.5,527.5C563.2,528.7 564.3,533.8 565.0,533.8C565.7,533.8 566.8,529.3 567.5,527.5C568.2,525.7 569.7,521.8 570.5,520.5C571.3,519.2 572.9,518.7 573.8,517.5C574.6,516.3 576.2,513.2 577.0,511.2C577.8,509.2 579.3,503.9 580.0,502.5C580.7,501.1 581.4,500.3 582.0,500.5C582.6,500.7 583.8,503.0 584.5,503.8C585.2,504.5 586.3,506.1 587.0,506.2C587.7,506.4 589.2,505.2 590.0,505.0C590.8,504.8 592.2,504.2 593.0,505.0C593.8,505.8 595.3,509.8 596.2,511.2C597.2,512.8 599.0,515.1 600.0,516.2C601.0,517.4 602.8,518.8 603.8,519.5C604.8,520.2 606.5,521.1 607.5,521.2C608.5,521.4 610.4,520.6 611.2,520.8C612.1,520.9 613.0,520.8 613.8,522.0C614.5,523.2 616.2,527.7 617.0,530.0C617.8,532.3 619.2,539.3 620.0,539.5C620.8,539.7 622.2,532.9 623.0,531.2C623.8,529.6 625.4,528.3 626.2,527.5C627.1,526.7 628.6,525.4 629.5,525.0C630.4,524.6 632.3,524.3 633.2,524.4C634.2,524.4 635.9,524.4 636.8,525.2C637.6,526.1 638.9,528.3 639.8,530.6C640.6,532.9 642.4,539.6 643.2,542.5C644.1,545.4 645.4,550.8 646.0,552.5C646.6,554.2 647.0,554.0 647.5,555.0C648.0,556.0 649.0,559.0 649.5,560.0C650.0,561.0 650.8,561.7 651.2,562.5C651.7,563.3 652.3,565.8 652.8,566.2C653.2,566.8 654.1,566.2 654.5,566.2C654.9,566.2 655.5,566.9 656.0,566.2C656.5,565.6 657.5,561.7 658.2,561.2C659.0,560.8 660.5,563.0 661.4,563.1C662.2,563.3 663.7,562.1 664.5,562.5C665.3,562.9 666.7,566.9 667.6,566.2C668.5,565.6 670.2,559.5 671.1,557.5C672.0,555.5 673.4,552.7 674.2,551.2C675.1,549.8 676.5,547.7 677.2,546.9C678.0,546.0 679.3,544.5 680.1,544.8C680.9,545.0 682.4,547.7 683.2,548.8C684.1,549.8 685.7,551.2 686.6,552.5C687.5,553.8 689.2,557.0 690.1,558.1C691.1,559.3 692.7,560.6 693.6,561.2C694.5,561.9 696.2,562.6 697.0,563.1C697.8,563.6 698.9,564.4 699.5,565.0C700.1,565.6 700.8,566.8 701.2,567.5C701.7,568.2 702.2,569.2 702.8,570.0C703.3,570.8 704.7,571.8 705.5,573.1C706.3,574.5 707.9,578.4 708.5,580.0C709.1,581.6 709.5,583.6 710.0,585.0C710.5,586.4 711.7,589.5 712.5,590.6C713.3,591.8 715.0,592.7 715.8,593.8C716.5,594.8 717.9,597.9 718.5,598.8C719.1,599.6 719.5,599.2 720.0,600.0C720.5,600.8 721.5,604.0 722.0,605.0C722.5,606.0 723.3,607.2 723.8,607.5C724.2,607.8 724.8,607.8 725.2,607.5C725.7,607.2 726.6,605.7 727.0,605.0C727.4,604.3 728.1,603.5 728.5,602.5C728.9,601.5 729.6,598.8 730.0,597.5C730.4,596.2 731.1,593.7 731.5,592.5C731.9,591.3 732.6,589.9 733.0,588.8C733.4,587.6 734.1,585.1 734.5,583.8C734.9,582.4 735.8,579.8 736.2,578.8C736.7,577.8 737.3,576.6 737.8,576.2C738.2,575.9 739.1,576.2 739.5,576.2C739.9,576.2 740.6,576.4 741.0,576.2C741.4,576.1 742.1,576.2 742.5,575.0C742.9,573.8 743.5,569.2 744.0,567.5C744.5,565.8 745.8,564.0 746.6,562.5C747.4,561.0 749.0,556.4 749.9,556.0C750.7,555.6 752.1,558.7 753.0,559.4C753.9,560.1 755.4,561.0 756.4,561.2C757.3,561.5 759.1,561.1 760.1,560.9C761.1,560.6 763.0,559.5 763.9,559.4C764.8,559.3 766.2,559.6 767.0,560.0C767.8,560.4 768.6,561.3 769.5,562.5C770.4,563.7 773.0,568.8 774.0,568.8C775.0,568.8 776.2,564.5 777.0,562.5C777.8,560.5 779.5,555.0 780.2,553.8C781.0,552.5 782.0,552.5 782.8,553.0C783.5,553.5 785.2,556.3 786.0,557.5C786.8,558.7 788.3,562.7 789.0,562.0C789.7,561.3 790.8,555.3 791.5,552.5C792.2,549.7 793.7,543.8 794.5,541.2C795.3,538.8 796.9,535.4 797.8,533.8C798.6,532.1 800.3,530.1 801.0,528.8C801.7,527.4 802.8,524.4 803.2,523.8C803.7,523.1 804.0,523.8 804.1,523.8L804.1,631.0Z" fill="#09458a"/>
<rect x="145" y="76" width="1.2" height="555.5" fill="#fff"/>
<rect x="145" y="630" width="660" height="1" fill="#fff" opacity="0.0"/>
<rect x="142.5" y="94.35" width="3" height="0.8" fill="#fff"/>
<rect x="140" y="129.90" width="5.5" height="1.2" fill="#fff"/>
<rect x="142.5" y="165.85" width="3" height="0.8" fill="#fff"/>
<rect x="142.5" y="201.60" width="3" height="0.8" fill="#fff"/>
<rect x="142.5" y="237.35" width="3" height="0.8" fill="#fff"/>
<rect x="142.5" y="273.10" width="3" height="0.8" fill="#fff"/>
<rect x="140" y="308.65" width="5.5" height="1.2" fill="#fff"/>
<rect x="142.5" y="344.60" width="3" height="0.8" fill="#fff"/>
<rect x="142.5" y="380.35" width="3" height="0.8" fill="#fff"/>
<rect x="142.5" y="416.10" width="3" height="0.8" fill="#fff"/>
<rect x="142.5" y="451.85" width="3" height="0.8" fill="#fff"/>
<rect x="140" y="487.40" width="5.5" height="1.2" fill="#fff"/>
<rect x="142.5" y="523.35" width="3" height="0.8" fill="#fff"/>
<rect x="142.5" y="559.10" width="3" height="0.8" fill="#fff"/>
<rect x="142.5" y="594.85" width="3" height="0.8" fill="#fff"/>
<rect x="142.5" y="630.60" width="3" height="0.8" fill="#fff"/>
<rect x="147.9" y="631" width="1.2" height="5" fill="#fff"/><rect x="203.7" y="631" width="1.2" height="5" fill="#fff"/><rect x="259.4" y="631" width="1.2" height="5" fill="#fff"/><rect x="315.1" y="631" width="1.2" height="5" fill="#fff"/><rect x="370.9" y="631" width="1.2" height="5" fill="#fff"/><rect x="426.6" y="631" width="1.2" height="5" fill="#fff"/><rect x="482.4" y="631" width="1.2" height="5" fill="#fff"/><rect x="538.1" y="631" width="1.2" height="5" fill="#fff"/><rect x="593.9" y="631" width="1.2" height="5" fill="#fff"/><rect x="649.6" y="631" width="1.2" height="5" fill="#fff"/><rect x="705.4" y="631" width="1.2" height="5" fill="#fff"/><rect x="761.1" y="631" width="1.2" height="5" fill="#fff"/>
<rect x="804" y="630" width="1" height="1" fill="#fff"/>
<rect x="655" y="243.2" width="9" height="2.6" fill="#f7fbff"/>
<defs>
<filter id="f0" x="-30%" y="-20%" width="160%" height="140%"><feConvolveMatrix order="5 3" kernelMatrix="0 0 0.5 0 0  0.4 1 1 1 0.4  0 0 0.5 0 0" divisor="1" bias="0" preserveAlpha="false"/></filter>
<filter id="f1" x="-30%" y="-20%" width="160%" height="140%"><feConvolveMatrix order="5 3" kernelMatrix="0 0 0.55 0 0  0.3 1 1 1 0.3  0 0 0.55 0 0" divisor="1" bias="0" preserveAlpha="false"/></filter>
<filter id="f2" x="-30%" y="-20%" width="160%" height="140%"><feConvolveMatrix order="5 3" kernelMatrix="0 0 0.5 0 0  0.1 1 1 1 0.1  0 0 0.5 0 0" divisor="1" bias="0" preserveAlpha="false"/></filter>
<filter id="f3" x="-30%" y="-20%" width="160%" height="140%"><feConvolveMatrix order="5 3" kernelMatrix="0 0 0.5 0 0  0.3 1 1 1 0.3  0 0 0.5 0 0" divisor="1" bias="0" preserveAlpha="false"/></filter>
<filter id="f4" x="-30%" y="-20%" width="160%" height="140%"><feConvolveMatrix order="3 3" kernelMatrix="0 0.45 0  0.9 1 0.9  0 0.45 0" divisor="1" bias="0" preserveAlpha="false"/></filter>
<filter id="f5" x="-30%" y="-20%" width="160%" height="140%"><feConvolveMatrix order="5 3" kernelMatrix="0 0 0.4 0 0  0.2 1 1 1 0.2  0 0 0.4 0 0" divisor="1" bias="0" preserveAlpha="false"/></filter>
<filter id="f6" x="-30%" y="-20%" width="160%" height="140%"><feConvolveMatrix order="5 3" kernelMatrix="0 0 0.4 0 0  0.1 1 1 1 0.1  0 0 0.4 0 0" divisor="1" bias="0" preserveAlpha="false"/></filter>
<filter id="f7" x="-30%" y="-20%" width="160%" height="140%"><feConvolveMatrix order="3 3" kernelMatrix="0 0.4 0  1.0 1 1.0  0 0.4 0" divisor="1" bias="0" preserveAlpha="false"/></filter>
<filter id="f8" x="-30%" y="-20%" width="160%" height="140%"><feConvolveMatrix order="5 3" kernelMatrix="0 0 0.45 0 0  0.3 1 1 1 0.3  0 0 0.45 0 0" divisor="1" bias="0" preserveAlpha="false"/></filter>
<filter id="f9" x="-30%" y="-20%" width="160%" height="140%"><feConvolveMatrix order="3 3" kernelMatrix="0 0.3 0  0.7 1 0.7  0 0.3 0" divisor="1" bias="0" preserveAlpha="false"/></filter>
<filter id="f10" x="-30%" y="-20%" width="160%" height="140%"><feConvolveMatrix order="3 3" kernelMatrix="0 0.3 0  0.8 1 0.8  0 0.3 0" divisor="1" bias="0" preserveAlpha="false"/></filter>
<filter id="f11" x="-30%" y="-20%" width="160%" height="140%"><feConvolveMatrix order="3 3" kernelMatrix="0 0.3 0  0.6 1 0.6  0 0.3 0" divisor="1" bias="0" preserveAlpha="false"/></filter>
<filter id="f12" x="-30%" y="-20%" width="160%" height="140%"><feConvolveMatrix order="3 3" kernelMatrix="0 0.25 0  0.6 1 0.6  0 0.25 0" divisor="1" bias="0" preserveAlpha="false"/></filter>
<filter id="f13" x="-30%" y="-20%" width="160%" height="140%"><feConvolveMatrix order="3 3" kernelMatrix="0 0.25 0  0.7 1 0.7  0 0.25 0" divisor="1" bias="0" preserveAlpha="false"/></filter>
<filter id="f14" x="-30%" y="-20%" width="160%" height="140%"><feConvolveMatrix order="3 3" kernelMatrix="0 0.25 0  0.8 1 0.8  0 0.25 0" divisor="1" bias="0" preserveAlpha="false"/></filter>
</defs>
<text id="t0" x="249.26" y="67.40" font-size="41.88" textLength="182.90" lengthAdjust="spacingAndGlyphs" letter-spacing="6.75" stroke-width="0.00" filter="url(#f0)">TEMPERATURA</text> <text id="t1" x="438.31" y="67.40" font-size="41.88" textLength="90.97" lengthAdjust="spacingAndGlyphs" letter-spacing="7.43" stroke-width="0.00" filter="url(#f0)">OCEANI</text>
<text id="t2" x="537.12" y="67.35" font-size="40.56" textLength="39.44" lengthAdjust="spacingAndGlyphs" letter-spacing="5.51" stroke-width="0.00" filter="url(#f1)"><tspan font-size="33.66" dy="-4.87">(</tspan><tspan dy="4.87">60</tspan></text><text id="t3" x="576.55" y="67.35" font-size="40.56" textLength="16.71" lengthAdjust="spacingAndGlyphs" stroke-width="1.10">°</text><text id="t4" x="595.94" y="67.40" font-size="41.88" textLength="16.11" lengthAdjust="spacingAndGlyphs" letter-spacing="8.05" stroke-width="0.00" filter="url(#f0)">N</text><text id="t5" x="611.07" y="62.74" font-size="40.56" textLength="10.76" lengthAdjust="spacingAndGlyphs" stroke-width="1.05">-</text><text id="t6" x="624.00" y="67.35" font-size="40.56" textLength="30.32" lengthAdjust="spacingAndGlyphs" letter-spacing="5.54" stroke-width="0.00" filter="url(#f1)">60</text><text id="t7" x="654.59" y="67.35" font-size="40.56" textLength="16.15" lengthAdjust="spacingAndGlyphs" stroke-width="1.10">°</text><text id="t8" x="672.30" y="67.40" font-size="41.88" textLength="30.42" lengthAdjust="spacingAndGlyphs" letter-spacing="3.93" stroke-width="0.00" filter="url(#f2)">S<tspan font-size="34.76" dy="-5.03">)</tspan></text>
<g transform="translate(66.8,476.9) rotate(-90)"><text id="t9" x="1.30" y="-0.50" font-size="41.88" textLength="182.23" lengthAdjust="spacingAndGlyphs" letter-spacing="6.81" stroke-width="0.00" filter="url(#f0)">TEMPERATURA</text> <text id="t10" x="189.57" y="-0.55" font-size="40.56" textLength="9.71" lengthAdjust="spacingAndGlyphs" stroke-width="1.10"><tspan font-size="33.66" dy="-4.87">(</tspan></text><text id="t11" x="201.93" y="-0.55" font-size="40.56" textLength="12.40" lengthAdjust="spacingAndGlyphs" stroke-width="1.10">°</text><text id="t12" x="218.03" y="-0.50" font-size="41.88" textLength="26.54" lengthAdjust="spacingAndGlyphs" letter-spacing="6.47" stroke-width="0.00" filter="url(#f3)">C<tspan font-size="34.76" dy="-5.03">)</tspan></text>
</g>
<text id="t13" x="76.44" y="136.57" font-size="21.52" textLength="11.97" lengthAdjust="spacingAndGlyphs" stroke-width="1.53">+</text><text id="t14" x="88.92" y="141.36" font-size="32.01" textLength="47.25" lengthAdjust="spacingAndGlyphs" letter-spacing="3.39" stroke-width="0.00" filter="url(#f4)">21.0</text>
<text id="t15" x="77.43" y="315.57" font-size="21.52" textLength="12.17" lengthAdjust="spacingAndGlyphs" stroke-width="1.53">+</text><text id="t16" x="89.93" y="320.36" font-size="32.01" textLength="46.91" lengthAdjust="spacingAndGlyphs" letter-spacing="3.46" stroke-width="0.00" filter="url(#f4)">20.5</text>
<text id="t17" x="77.17" y="494.37" font-size="21.52" textLength="12.15" lengthAdjust="spacingAndGlyphs" stroke-width="1.53">+</text><text id="t18" x="89.97" y="499.16" font-size="32.01" textLength="47.06" lengthAdjust="spacingAndGlyphs" letter-spacing="3.43" stroke-width="0.00" filter="url(#f4)">20.0</text>
<text id="t19" x="131.49" y="663.50" font-size="33.34" textLength="37.16" lengthAdjust="spacingAndGlyphs" letter-spacing="6.90" stroke-width="0.00" filter="url(#f5)">GEN</text> <text id="t20" x="188.25" y="663.50" font-size="33.34" textLength="35.58" lengthAdjust="spacingAndGlyphs" letter-spacing="6.32" stroke-width="0.00" filter="url(#f6)">FEB</text> <text id="t21" x="238.41" y="663.50" font-size="33.34" textLength="45.18" lengthAdjust="spacingAndGlyphs" letter-spacing="4.71" stroke-width="0.00" filter="url(#f7)">MAR</text> <text id="t22" x="298.28" y="663.50" font-size="33.34" textLength="38.16" lengthAdjust="spacingAndGlyphs" letter-spacing="5.95" stroke-width="0.00" filter="url(#f6)">APR</text> <text id="t23" x="350.54" y="663.50" font-size="33.34" textLength="43.31" lengthAdjust="spacingAndGlyphs" letter-spacing="5.41" stroke-width="0.00" filter="url(#f6)">MAG</text> <text id="t24" x="411.25" y="663.50" font-size="33.34" textLength="32.45" lengthAdjust="spacingAndGlyphs" letter-spacing="6.67" stroke-width="0.00" filter="url(#f5)">GIU</text> <text id="t25" x="465.45" y="663.50" font-size="33.34" textLength="38.02" lengthAdjust="spacingAndGlyphs" letter-spacing="6.00" stroke-width="0.00" filter="url(#f6)">LUG</text> <text id="t26" x="520.35" y="663.50" font-size="33.34" textLength="38.62" lengthAdjust="spacingAndGlyphs" letter-spacing="6.63" stroke-width="0.00" filter="url(#f5)">AGO</text> <text id="t27" x="576.68" y="663.50" font-size="33.34" textLength="35.18" lengthAdjust="spacingAndGlyphs" letter-spacing="6.48" stroke-width="0.00" filter="url(#f6)">SET</text> <text id="t28" x="631.79" y="663.50" font-size="33.34" textLength="37.47" lengthAdjust="spacingAndGlyphs" letter-spacing="5.90" stroke-width="0.00" filter="url(#f6)">OTT</text> <text id="t29" x="685.76" y="663.50" font-size="33.34" textLength="39.49" lengthAdjust="spacingAndGlyphs" letter-spacing="6.05" stroke-width="0.00" filter="url(#f6)">NOV</text> <text id="t30" x="745.64" y="663.50" font-size="33.34" textLength="32.05" lengthAdjust="spacingAndGlyphs" letter-spacing="6.49" stroke-width="0.00" filter="url(#f5)">DIC</text>
<text id="t31" x="664.75" y="237.76" font-size="25.26" textLength="13.68" lengthAdjust="spacingAndGlyphs" stroke-width="1.80">+</text><text id="t32" x="681.01" y="243.29" font-size="37.57" textLength="54.50" lengthAdjust="spacingAndGlyphs" letter-spacing="4.18" stroke-width="0.00" filter="url(#f2)">20.7</text><text id="t33" x="733.80" y="243.29" font-size="37.57" textLength="15.36" lengthAdjust="spacingAndGlyphs" stroke-width="1.02">°</text><text id="t34" x="751.50" y="243.34" font-size="38.80" textLength="15.07" lengthAdjust="spacingAndGlyphs" letter-spacing="7.30" stroke-width="0.00" filter="url(#f8)">C</text>
<text id="t35" x="681.37" y="265.28" font-size="23.47" textLength="19.05" lengthAdjust="spacingAndGlyphs" letter-spacing="2.59" stroke-width="0.00" filter="url(#f9)">10</text> <text id="t36" x="705.33" y="265.31" font-size="24.23" textLength="28.56" lengthAdjust="spacingAndGlyphs" letter-spacing="3.85" stroke-width="0.00" filter="url(#f10)">OTT</text> <text id="t37" x="737.64" y="265.28" font-size="23.47" textLength="40.07" lengthAdjust="spacingAndGlyphs" letter-spacing="2.26" stroke-width="0.00" filter="url(#f11)">2025</text>
<text id="t38" x="516.37" y="620.67" font-size="19.61" textLength="31.59" lengthAdjust="spacingAndGlyphs" letter-spacing="2.87" stroke-width="0.00" filter="url(#f12)" opacity="0.43">DATI:</text> <text id="t39" x="550.24" y="620.67" font-size="19.61" textLength="46.04" lengthAdjust="spacingAndGlyphs" letter-spacing="2.99" stroke-width="0.00" filter="url(#f12)" opacity="0.43">UMAINE</text> <text id="t40" x="600.13" y="620.64" font-size="18.99" textLength="5.04" lengthAdjust="spacingAndGlyphs" stroke-width="0.52" opacity="0.43">|</text> <text id="t41" x="610.93" y="620.67" font-size="19.61" textLength="52.33" lengthAdjust="spacingAndGlyphs" letter-spacing="3.58" stroke-width="0.00" filter="url(#f13)" opacity="0.43">CREDITS:</text> <text id="t42" x="666.22" y="620.67" font-size="19.61" textLength="64.47" lengthAdjust="spacingAndGlyphs" letter-spacing="3.17" stroke-width="0.00" filter="url(#f12)" opacity="0.43">@GALSELO</text> <text id="t43" x="733.90" y="620.67" font-size="19.61" textLength="22.66" lengthAdjust="spacingAndGlyphs" letter-spacing="3.43" stroke-width="0.00" filter="url(#f13)" opacity="0.43">PER</text> <text id="t44" x="760.44" y="620.67" font-size="19.61" textLength="38.02" lengthAdjust="spacingAndGlyphs" letter-spacing="3.51" stroke-width="0.00" filter="url(#f13)" opacity="0.43">CHPDB</text>
<rect x="156.4" y="529.7" width="342.4" height="90.1" rx="3" ry="3" fill="#000" fill-opacity="0.8" stroke="#c4ccd4" stroke-opacity="0.85" stroke-width="1"/>
<rect x="163.9" y="546.0" width="47.2" height="3" fill="#f7fbff"/>
<rect x="163.9" y="573.9" width="47.2" height="3" fill="#61a7d2"/>
<rect x="163.9" y="601.7" width="47.2" height="3" fill="#3787c0"/>
<rect x="352.1" y="546.0" width="47.6" height="3" fill="#1764ab"/>
<rect x="352.1" y="573.1" width="47.6" height="3" fill="#0a478f"/>
<text id="t45" x="227.87" y="554.83" font-size="22.41" textLength="30.63" lengthAdjust="spacingAndGlyphs" letter-spacing="4.70" stroke-width="0.00" filter="url(#f14)">OGGI</text> <text id="t46" x="262.30" y="554.80" font-size="21.70" textLength="47.68" lengthAdjust="spacingAndGlyphs" letter-spacing="2.09" stroke-width="0.00" filter="url(#f11)"><tspan font-size="18.01" dy="-2.60">(</tspan><tspan dy="2.60">2025</tspan><tspan font-size="18.01" dy="-2.60">)</tspan></text>
<text id="t47" x="228.28" y="582.70" font-size="21.70" textLength="16.17" lengthAdjust="spacingAndGlyphs" letter-spacing="2.99" stroke-width="0.00" filter="url(#f9)">10</text> <text id="t48" x="248.84" y="582.73" font-size="22.41" textLength="32.59" lengthAdjust="spacingAndGlyphs" letter-spacing="3.48" stroke-width="0.00" filter="url(#f13)">ANNI</text> <text id="t49" x="284.20" y="582.73" font-size="22.41" textLength="17.13" lengthAdjust="spacingAndGlyphs" letter-spacing="3.23" stroke-width="0.00" filter="url(#f13)">FA</text>
<text id="t50" x="227.62" y="610.00" font-size="21.70" textLength="16.86" lengthAdjust="spacingAndGlyphs" letter-spacing="2.69" stroke-width="0.00" filter="url(#f9)">20</text> <text id="t51" x="248.84" y="610.03" font-size="22.41" textLength="32.59" lengthAdjust="spacingAndGlyphs" letter-spacing="3.48" stroke-width="0.00" filter="url(#f13)">ANNI</text> <text id="t52" x="284.20" y="610.03" font-size="22.41" textLength="17.13" lengthAdjust="spacingAndGlyphs" letter-spacing="3.23" stroke-width="0.00" filter="url(#f13)">FA</text>
<text id="t53" x="416.26" y="554.80" font-size="21.70" textLength="17.01" lengthAdjust="spacingAndGlyphs" letter-spacing="2.63" stroke-width="0.00" filter="url(#f11)">30</text> <text id="t54" x="438.05" y="554.83" font-size="22.41" textLength="32.70" lengthAdjust="spacingAndGlyphs" letter-spacing="3.45" stroke-width="0.00" filter="url(#f13)">ANNI</text> <text id="t55" x="473.47" y="554.83" font-size="22.41" textLength="17.79" lengthAdjust="spacingAndGlyphs" letter-spacing="2.95" stroke-width="0.00" filter="url(#f13)">FA</text>
<text id="t56" x="416.59" y="582.70" font-size="21.70" textLength="16.67" lengthAdjust="spacingAndGlyphs" letter-spacing="2.77" stroke-width="0.00" filter="url(#f9)">40</text> <text id="t57" x="438.05" y="582.73" font-size="22.41" textLength="32.70" lengthAdjust="spacingAndGlyphs" letter-spacing="3.45" stroke-width="0.00" filter="url(#f13)">ANNI</text> <text id="t58" x="473.47" y="582.73" font-size="22.41" textLength="17.79" lengthAdjust="spacingAndGlyphs" letter-spacing="2.95" stroke-width="0.00" filter="url(#f13)">FA</text>
</svg>
</body></html>
